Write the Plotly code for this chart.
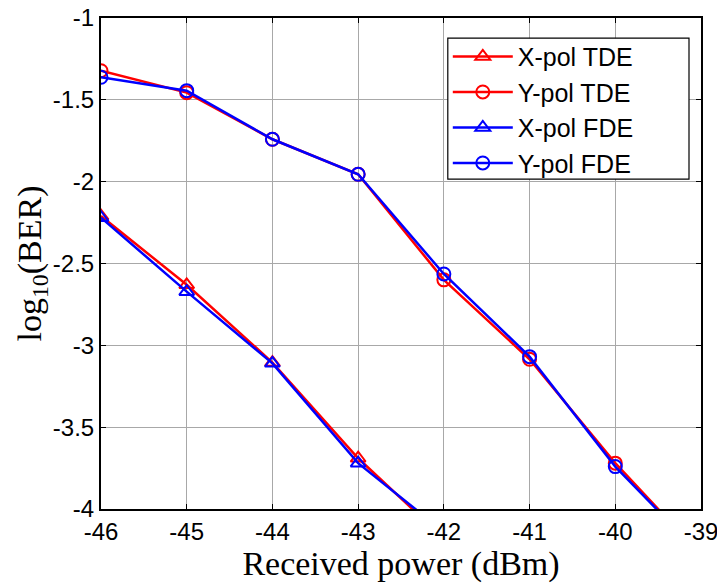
import plotly.graph_objects as go

power = [-46, -45, -44, -43, -42, -41, -40, -39]
xpol_tde = [-2.21, -2.63, -3.105, -3.69, -4.18]
ypol_tde = [-1.322, -1.456, -1.741, -1.955, -2.60, -3.085, -3.72, -4.28]
xpol_fde = [-2.22, -2.672, -3.11, -3.72, -4.14]
ypol_fde = [-1.362, -1.444, -1.741, -1.955, -2.564, -3.069, -3.741, -4.28]

x_ticks = [-46, -45, -44, -43, -42, -41, -40, -39]
y_ticks = [-4, -3.5, -3, -2.5, -2, -1.5, -1]

RED = "#ff0000"
BLUE = "#0000ff"

fig = go.Figure()

def add(xs, ys, name, color, symbol):
    fig.add_trace(go.Scatter(
        x=xs, y=ys, name=name, mode="lines+markers",
        line=dict(color=color, width=2.5),
        marker=dict(symbol=symbol, size=13, color=color,
                    line=dict(color=color, width=2)),
        cliponaxis=True,
    ))

add(power[:len(xpol_tde)], xpol_tde, "X-pol TDE", RED, "triangle-up-open")
add(power, ypol_tde, "Y-pol TDE", RED, "circle-open")
add(power[:len(xpol_fde)], xpol_fde, "X-pol FDE", BLUE, "triangle-up-open")
add(power, ypol_fde, "Y-pol FDE", BLUE, "circle-open")

axis_common = dict(
    showgrid=True, gridcolor="#a8a8a8", gridwidth=1,
    showline=True, linecolor="black", linewidth=2, mirror="ticks",
    ticks="inside", ticklen=5, tickcolor="black", tickwidth=1,
    zeroline=False, automargin=False, ticklabeloverflow="allow",
    tickfont=dict(family="Liberation Sans, Arial", size=24, color="black"),
)

# legend frame (white box with black border behind the legend entries)
fig.add_shape(type="rect", xref="paper", yref="paper",
              x0=0.578, x1=0.98, y0=0.672, y1=0.959,
              fillcolor="white", line=dict(color="black", width=1.2),
              layer="above")

fig.update_layout(
    width=717, height=584,
    margin=dict(l=101, r=16, t=18, b=75),
    paper_bgcolor="white", plot_bgcolor="white",
    showlegend=True,
    legend=dict(
        x=0.578, y=0.968, xanchor="left", yanchor="top",
        bgcolor="rgba(0,0,0,0)", borderwidth=0,
        font=dict(family="Liberation Sans, Arial", size=25, color="black"),
        itemwidth=60, tracegroupgap=0,
    ),
    xaxis=dict(
        range=[-46, -39], tickvals=x_ticks,
        ticktext=[str(v) for v in x_ticks],
        title=dict(text="Received power (dBm)", standoff=0,
                   font=dict(family="Liberation Serif, Times New Roman", size=34, color="black")),
        **axis_common,
    ),
    yaxis=dict(
        range=[-4, -1], tickvals=y_ticks,
        ticktext=[("%g" % v) for v in y_ticks],
        title=dict(text="log<sub>10</sub>(BER)", standoff=0,
                   font=dict(family="Liberation Serif, Times New Roman", size=34, color="black")),
        **axis_common,
    ),
)

fig.write_html(
    "out.html",
    config={"displayModeBar": False},
    post_script="document.body.style.margin='0';document.body.style.overflow='hidden';",
)
